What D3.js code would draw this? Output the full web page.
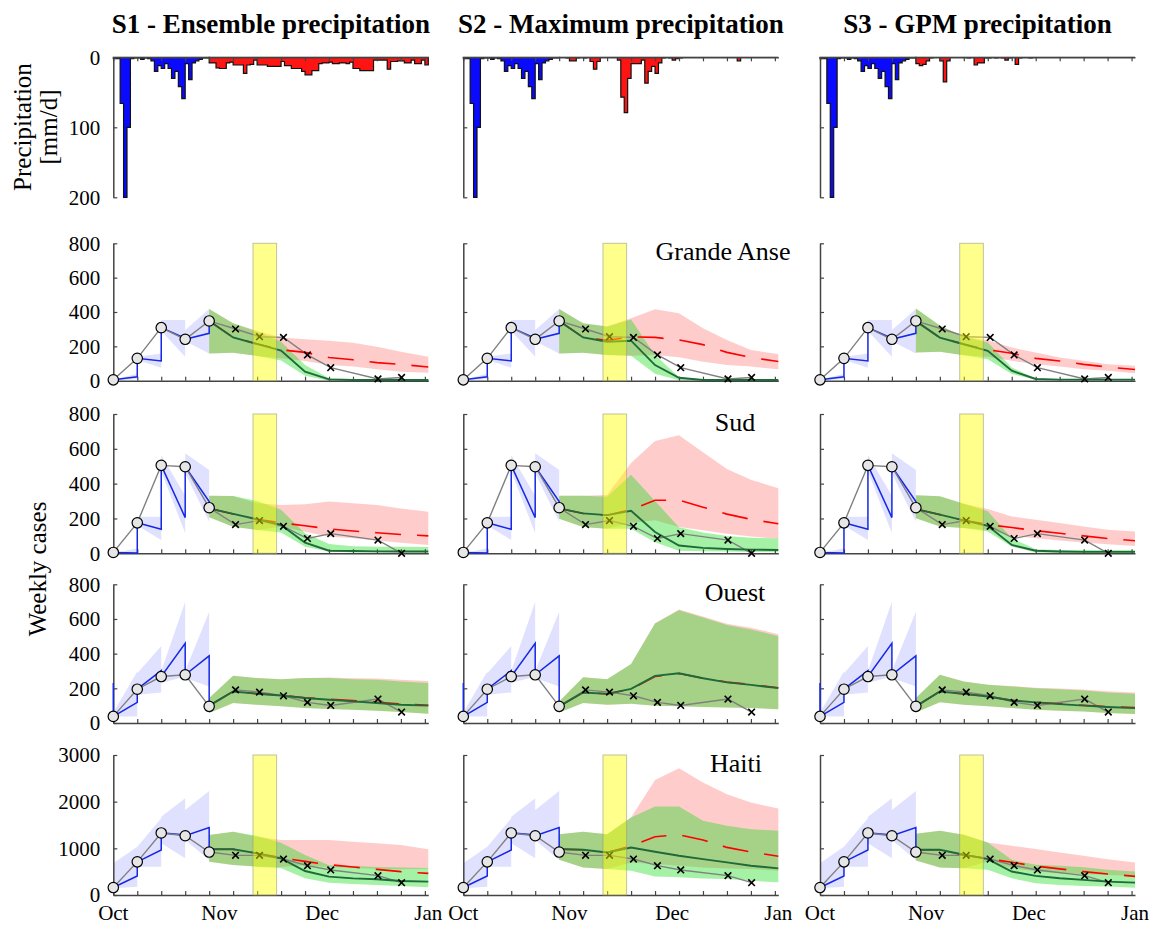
<!DOCTYPE html>
<html>
<head>
<meta charset="utf-8">
<script src="https://cdn.jsdelivr.net/npm/d3@7"></script>
<style>
  body { margin: 0; background: #fff; }
  svg text { font-family: "Liberation Serif", "Times New Roman", serif; }
</style>
</head>
<body>
<div id="chart"></div>
<script>
//column titles and row names
var scenarios = ['S1 - Ensemble precipitation', 'S2 - Maximum precipitation', 'S3 - GPM precipitation'];
var regions = ['Grande Anse', 'Sud', 'Ouest', 'Haiti'];
var monthLabels = ['Oct', 'Nov', 'Dec', 'Jan'];
var monthDays = [0, 31, 61, 92];
var caseTicks = [0, 200, 400, 600, 800];
var haitiTicks = [0, 1000, 2000, 3000];
var rainTicks = [0, 100, 200];

//daily rain (mm/d), Oct 1 = day 0
var rainObs = [2, 2, 66, 215, 100, 2, 1, 1, 3, 1, 2, 5, 20, 12, 16, 9, 16, 30, 20, 42, 59, 9, 32, 8, 5, 3, 1, 1];
var rainS1 = [8, 8, 15, 16, 16, 8, 7, 11, 11, 11, 23, 11, 10, 4, 11, 11, 11, 13, 13, 13, 13, 6, 12, 12, 16, 16, 16, 20, 25, 25, 19, 19,
  9, 8, 8, 7, 9, 9, 8, 8, 9, 7, 16, 16, 19, 19, 19, 19, 4, 4, 4, 4, 17, 6, 6, 5, 5, 8, 8, 4, 9, 9, 4, 11];
var rainS2 = [0, 0, 1, 5, 5, 1, 0, 1, 0, 6, 17, 6, 0, 0, 0, 0, 0, 4, 57, 79, 30, 9, 9, 9, 4, 37, 20, 13, 23, 8, 1, 0,
  1, 4, 2, 1, 0, 0, 0, 0, 0, 0, 0, 0, 0, 0, 0, 0, 0, 0, 0, 0, 5, 0, 0, 0, 0, 0, 0, 0, 0, 0, 0, 0];
var rainS3 = [9, 12, 10, 5, 1, 0, 0, 5, 35, 5, 0, 0, 0, 0, 0, 1, 0, 11, 8, 8, 1, 1, 0, 1, 0, 1, 4, 1, 0, 10, 1, 0,
  0, 1, 0, 0, 0, 0, 0, 0, 0, 0, 0, 0, 0, 0, 0, 0, 0, 0, 0, 0, 0, 0, 0, 0, 0, 0, 0, 0, 0, 0, 0, 0];

//days of the weekly points
var obsDays = [0, 7, 14, 21, 28];
var valDays = [35.7, 42.7, 49.7, 56.7, 63.5, 77.3, 84.2];
var fcDays = [28, 35, 42, 49, 56, 63, 70, 77, 84, 92];
var alertDays = [40.8, 47.7];

//Grande Anse
var gaObs = [5, 130, 309, 241, 348];
var gaVal = [301, 256, 252, 150, 76, 10, 19];
var gaPred = [5, 23, 115, 247, 276];
var gaBandStart = [[0, 5], [120, 140], [290, 353], [230, 295]];
var gaBandEnd = [[10, 40], [76, 159], [140, 353], [159, 418]];
var gaGreenMid = [[348, 252, 214, 175, 52, 8, 4, 4, 4, 4], [348, 252, 227, 233, 91, 17, 4, 4, 4, 4], [347, 251, 212, 174, 58, 10, 6, 6, 6, 6]];
var gaGreenLo = [[159, 163, 144, 117, 29, 0, 0, 0, 0, 0], [159, 163, 150, 145, 40, 2, 0, 0, 0, 0], [164, 168, 148, 125, 39, 6, 2, 2, 2, 2]];
var gaGreenHi = [[418, 334, 286, 227, 91, 14, 8, 8, 8, 8], [418, 334, 315, 357, 150, 20, 8, 6, 6, 6], [420, 322, 256, 222, 77, 13, 8, 8, 8, 8]];
var gaRedMid = [[348, 252, 214, 180, 165, 135, 122, 105, 95, 80], [348, 252, 235, 255, 252, 237, 210, 165, 135, 112], [347, 251, 212, 180, 160, 130, 115, 95, 80, 65]];
var gaRedLo = [[159, 163, 144, 130, 115, 91, 82, 66, 52, 47], [159, 163, 150, 145, 150, 136, 111, 91, 82, 66], [164, 168, 148, 140, 116, 96, 83, 67, 58, 44]];
var gaRedHi = [[418, 334, 290, 252, 241, 233, 221, 198, 169, 140], [418, 334, 315, 363, 416, 392, 305, 237, 179, 155], [420, 322, 256, 235, 193, 164, 135, 116, 96, 87]];

//Sud
var sudObs = [5, 175, 505, 497, 262];
var sudVal = [165, 188, 155, 85, 113, 76, 0];
var sudPred = [5, 2, 138, 205, 297];
var sudBandStart = [[0, 0], [160, 210], [470, 565], [459, 574]];
var sudBandEnd = [[0, 29], [77, 210], [115, 330], [182, 478]];
var sudGreenMid = [[258, 226, 195, 163, 61, 15, 13, 11, 10, 10], [258, 229, 219, 244, 122, 45, 31, 25, 21, 19], [254, 222, 189, 158, 48, 15, 10, 8, 8, 8]];
var sudGreenLo = [[207, 153, 134, 119, 38, 10, 4, 4, 4, 4], [199, 151, 141, 141, 64, 15, 12, 10, 8, 6], [202, 154, 145, 125, 39, 4, 2, 2, 2, 2]];
var sudGreenHi = [[331, 329, 300, 250, 115, 54, 40, 38, 38, 36], [331, 331, 325, 451, 300, 150, 120, 100, 90, 85], [334, 328, 285, 241, 87, 23, 19, 19, 19, 19]];
var sudRedMid = [[258, 226, 195, 175, 158, 140, 128, 118, 108, 100], [258, 229, 219, 250, 305, 305, 265, 225, 195, 170], [254, 222, 189, 165, 148, 130, 115, 100, 85, 72]];
var sudRedLo = [[207, 153, 134, 153, 124, 96, 86, 73, 61, 48], [199, 151, 141, 175, 190, 151, 132, 112, 97, 83], [202, 154, 145, 135, 100, 87, 73, 62, 52, 42]];
var sudRedHi = [[331, 329, 287, 277, 281, 297, 287, 277, 258, 239], [331, 331, 335, 519, 645, 678, 581, 484, 422, 374], [334, 328, 285, 254, 212, 193, 174, 154, 135, 125]];

//Ouest
var ouObs = [38, 195, 268, 278, 96];
var ouVal = [191, 178, 157, 119, 101, 138, 63];
var ouPred = [230, 119, 302, 459, 387];
var ouBandStart = [[38, 60], [163, 287], [230, 300], [260, 300]];
var ouBandEnd = [[38, 297], [176, 444], [268, 699], [211, 641]];
var ouGreenMid = [[100, 182, 169, 159, 144, 134, 125, 115, 105, 100], [96, 176, 168, 197, 272, 287, 258, 234, 220, 201], [96, 182, 168, 153, 130, 119, 109, 100, 92, 86]];
var ouGreenLo = [[58, 115, 105, 96, 86, 81, 77, 71, 63, 54], [61, 115, 105, 111, 100, 96, 92, 90, 86, 80], [61, 119, 105, 96, 86, 77, 71, 67, 57, 52]];
var ouGreenHi = [[144, 272, 259, 253, 259, 259, 253, 249, 240, 230], [124, 264, 253, 341, 574, 651, 609, 565, 540, 501], [144, 278, 239, 220, 211, 201, 195, 188, 176, 168]];
var ouRedMid = [[100, 182, 169, 160, 146, 137, 130, 120, 110, 102], [96, 176, 168, 195, 268, 285, 258, 236, 222, 203], [96, 182, 168, 153, 131, 120, 111, 102, 94, 89]];
var ouRedLo = [[58, 115, 105, 96, 86, 81, 77, 71, 63, 54], [61, 115, 105, 111, 100, 96, 92, 90, 86, 80], [61, 119, 105, 96, 86, 77, 71, 67, 57, 52]];
var ouRedHi = [[144, 272, 259, 253, 260, 262, 258, 256, 250, 242], [124, 264, 253, 341, 576, 655, 614, 572, 550, 512], [144, 278, 239, 221, 213, 204, 199, 193, 183, 176]];

//Haiti
var htObs = [160, 710, 1330, 1270, 920];
var htVal = [850, 850, 771, 629, 536, 414, 264];
var htPred = [160, 407, 964, 1286, 1443];
var htBandStart = [[143, 679], [607, 1036], [1107, 1679], [1179, 1821]];
var htBandEnd = [[179, 1036], [607, 1643], [786, 2071], [750, 2229]];
var htGreenMid = [[979, 979, 893, 786, 514, 393, 357, 336, 300, 286], [983, 969, 912, 1019, 926, 841, 770, 698, 627, 570], [969, 969, 862, 768, 503, 409, 359, 323, 287, 266]];
var htGreenLo = [[714, 643, 607, 571, 357, 264, 236, 214, 193, 164], [755, 591, 556, 520, 399, 378, 356, 342, 306, 271], [740, 589, 574, 539, 359, 251, 215, 194, 180, 158]];
var htGreenHi = [[1286, 1357, 1264, 1121, 857, 640, 620, 600, 590, 580], [1304, 1354, 1304, 1660, 1896, 1896, 1589, 1482, 1411, 1375], [1314, 1379, 1292, 1127, 754, 646, 625, 596, 539, 503]];
var htRedMid = [[979, 979, 893, 800, 720, 650, 600, 550, 500, 464], [983, 969, 912, 1050, 1250, 1290, 1180, 1020, 920, 830], [969, 969, 862, 780, 700, 620, 560, 500, 450, 400]];
var htRedLo = [[714, 643, 607, 600, 640, 600, 580, 560, 550, 560], [755, 591, 556, 698, 663, 627, 591, 570, 556, 520], [740, 589, 574, 718, 574, 503, 467, 452, 431, 409]];
var htRedHi = [[1286, 1357, 1250, 1179, 1179, 1179, 1143, 1107, 1071, 979], [1304, 1354, 1304, 1660, 2466, 2715, 2409, 2159, 1981, 1853], [1314, 1379, 1292, 1127, 1055, 984, 912, 840, 768, 696]];

//table built from the arrays above
var regionData = [
  { obs: gaObs, val: gaVal, pred: gaPred, bs: gaBandStart, be: gaBandEnd, gm: gaGreenMid, gl: gaGreenLo, gh: gaGreenHi, rm: gaRedMid, rl: gaRedLo, rh: gaRedHi, max: 800, ticks: caseTicks, alert: true },
  { obs: sudObs, val: sudVal, pred: sudPred, bs: sudBandStart, be: sudBandEnd, gm: sudGreenMid, gl: sudGreenLo, gh: sudGreenHi, rm: sudRedMid, rl: sudRedLo, rh: sudRedHi, max: 800, ticks: caseTicks, alert: true },
  { obs: ouObs, val: ouVal, pred: ouPred, bs: ouBandStart, be: ouBandEnd, gm: ouGreenMid, gl: ouGreenLo, gh: ouGreenHi, rm: ouRedMid, rl: ouRedLo, rh: ouRedHi, max: 800, ticks: caseTicks, alert: false },
  { obs: htObs, val: htVal, pred: htPred, bs: htBandStart, be: htBandEnd, gm: htGreenMid, gl: htGreenLo, gh: htGreenHi, rm: htRedMid, rl: htRedLo, rh: htRedHi, max: 3000, ticks: haitiTicks, alert: true }
];
var rainScen = [rainS1, rainS2, rainS3];

//layout
var width = 1155;
var height = 928;
var colX = [113.3, 463.3, 820];
var plotW = 315;
var rainTop = 57.3;
var rainBot = 197.3;
var rowTop = [243.3, 414, 584.3, 755];
var rowBot = [380.7, 553.3, 723, 895];
var labelX = [723, 735, 735, 736];
var weekTicks = d3.range(0, 92, 7);
var axisColor = '#444';
var serif = '"Liberation Serif", "Times New Roman", serif';

var svg = d3.select('#chart')
  .append('svg')
  .attr('width', width)
  .attr('height', height)
  .attr('font-family', serif);

function styleAxis(sel) {
  sel.attr('color', axisColor).attr('font-size', 21).attr('font-family', serif);
  sel.select('.domain').attr('stroke-width', 1.5);
  sel.selectAll('.tick line').attr('stroke-width', 1.2);
  sel.selectAll('.tick text').attr('fill', '#000');
}

//precipitation panels
function drawRain(col) {
  var x = d3.scaleLinear().domain([0, 92]).range([colX[col], colX[col] + plotW]);
  var y = d3.scaleLinear().domain([0, 200]).range([rainTop, rainBot]).clamp(true);
  var g = svg.append('g');

  var area = d3.area()
    .curve(d3.curveStepAfter)
    .x(function(d) { return x(d[0]); })
    .y0(y(0))
    .y1(function(d) { return y(d[1]); });

  var before = rainObs.map(function(v, i) { return [i, v]; });
  before.push([rainObs.length, rainObs[rainObs.length - 1]]);
  var after = rainScen[col].map(function(v, i) { return [i + rainObs.length, v]; });
  after.push([92, rainScen[col][rainScen[col].length - 1]]);

  g.append('path').attr('d', area(before)).attr('fill', '#0a0aff')
    .attr('stroke', '#111').attr('stroke-width', 1.2).attr('stroke-linejoin', 'miter');
  g.append('path').attr('d', area(after)).attr('fill', '#ff1414')
    .attr('stroke', '#111').attr('stroke-width', 1.2).attr('stroke-linejoin', 'miter');

  g.append('g')
    .attr('transform', 'translate(0,' + rainTop + ')')
    .call(d3.axisTop(x).tickValues(weekTicks).tickSizeInner(-4).tickSizeOuter(0).tickFormat(''))
    .call(styleAxis);

  g.append('g')
    .attr('transform', 'translate(' + colX[col] + ',0)')
    .call(d3.axisLeft(y).tickValues(rainTicks).tickSizeInner(-4).tickSizeOuter(0).tickPadding(13)
      .tickFormat(col === 0 ? d3.format('d') : ''))
    .call(styleAxis);
}

//weekly case panels
function drawCases(col, r) {
  var reg = regionData[r];
  var x = d3.scaleLinear().domain([0, 92]).range([colX[col], colX[col] + plotW]);
  var y = d3.scaleLinear().domain([0, reg.max]).range([rowBot[r], rowTop[r]]);
  var g = svg.append('g');

  var band = d3.area()
    .x(function(d) { return x(d.d); })
    .y0(function(d) { return y(d.lo); })
    .y1(function(d) { return y(d.hi); });
  var line = d3.line()
    .x(function(d) { return x(d.d); })
    .y(function(d) { return y(d.v); });

  //calibration uncertainty, one wedge per week
  reg.bs.forEach(function(s, k) {
    var e = reg.be[k];
    var pts = [{ d: obsDays[k], lo: s[0], hi: s[1] }, { d: obsDays[k + 1], lo: e[0], hi: e[1] }];
    g.append('path').attr('d', band(pts)).attr('fill', '#0000ff').attr('fill-opacity', 0.12);
  });

  //forecast bands: rain scenario (red) and green
  var redPts = fcDays.map(function(d, i) { return { d: d, lo: reg.rl[col][i], hi: reg.rh[col][i] }; });
  var greenPts = fcDays.map(function(d, i) { return { d: d, lo: reg.gl[col][i], hi: reg.gh[col][i] }; });
  g.append('path').attr('d', band(redPts)).attr('fill', '#ff0000').attr('fill-opacity', 0.2);
  g.append('path').attr('d', band(greenPts)).attr('fill', '#1edc1e').attr('fill-opacity', 0.4);

  //axes
  g.append('g')
    .attr('transform', 'translate(0,' + rowBot[r] + ')')
    .call(d3.axisBottom(x).tickValues(weekTicks).tickSizeInner(-4).tickSizeOuter(0).tickFormat(''))
    .call(styleAxis);
  g.append('g')
    .attr('transform', 'translate(' + colX[col] + ',0)')
    .call(d3.axisLeft(y).tickValues(reg.ticks).tickSizeInner(-4).tickSizeOuter(0).tickPadding(13)
      .tickFormat(col === 0 ? d3.format('d') : ''))
    .call(styleAxis);

  //model fit: prediction for each week, then reset to the observation
  var fit = [];
  obsDays.forEach(function(d, k) {
    fit.push({ d: d, v: reg.pred[k] });
    fit.push({ d: d, v: reg.obs[k] });
  });
  g.append('path').attr('d', line(fit)).attr('fill', 'none').attr('stroke', '#1428e6').attr('stroke-width', 1.5);

  //observed cases
  var observed = obsDays.map(function(d, i) { return { d: d, v: reg.obs[i] }; })
    .concat(valDays.map(function(d, i) { return { d: d, v: reg.val[i] }; }));
  g.append('path').attr('d', line(observed)).attr('fill', 'none').attr('stroke', '#808080').attr('stroke-width', 1.4);

  //forecast medians, green drawn over the red dashes
  g.append('path')
    .attr('d', line(fcDays.map(function(d, i) { return { d: d, v: reg.rm[col][i] }; })))
    .attr('fill', 'none').attr('stroke', '#ff0000').attr('stroke-width', 1.6).attr('stroke-dasharray', '26,16');
  g.append('path')
    .attr('d', line(fcDays.map(function(d, i) { return { d: d, v: reg.gm[col][i] }; })))
    .attr('fill', 'none').attr('stroke', '#1e6a3a').attr('stroke-width', 1.9);

  //markers
  g.selectAll('path.cross')
    .data(valDays)
    .enter()
    .append('path')
    .attr('class', 'cross')
    .attr('d', function(d, i) {
      var cx = x(d), cy = y(reg.val[i]);
      return 'M' + (cx - 3.3) + ',' + (cy - 3.3) + 'L' + (cx + 3.3) + ',' + (cy + 3.3) +
        'M' + (cx - 3.3) + ',' + (cy + 3.3) + 'L' + (cx + 3.3) + ',' + (cy - 3.3);
    })
    .attr('stroke', '#000').attr('stroke-width', 1.6);

  g.selectAll('circle')
    .data(obsDays)
    .enter()
    .append('circle')
    .attr('cx', function(d) { return x(d); })
    .attr('cy', function(d, i) { return y(reg.obs[i]); })
    .attr('r', 5.2)
    .attr('fill', '#e6e6e6')
    .attr('stroke', '#000')
    .attr('stroke-width', 1.2);

  //period of the rain alert
  if (reg.alert) {
    g.append('rect')
      .attr('x', x(alertDays[0]))
      .attr('width', x(alertDays[1]) - x(alertDays[0]))
      .attr('y', rowTop[r])
      .attr('height', rowBot[r] - rowTop[r])
      .attr('fill', '#ffff00').attr('fill-opacity', 0.45)
      .attr('stroke', '#9a9a80').attr('stroke-opacity', 0.6).attr('stroke-width', 1);
  }

  //month names on the bottom row
  if (r === regions.length - 1) {
    g.selectAll('text.month')
      .data(monthDays)
      .enter()
      .append('text')
      .attr('class', 'month')
      .attr('x', function(d) { return x(d); })
      .attr('y', rowBot[r] + 25)
      .attr('text-anchor', 'middle')
      .attr('font-size', 21)
      .text(function(d, i) { return monthLabels[i]; });
  }

  //region name in the middle column
  if (col === 1) {
    g.append('text')
      .attr('x', labelX[r])
      .attr('y', rowTop[r] + 17)
      .attr('text-anchor', 'middle')
      .attr('font-size', 26)
      .text(regions[r]);
  }
}

scenarios.forEach(function(s, col) {
  svg.append('text')
    .attr('x', colX[col] + plotW / 2)
    .attr('y', 33)
    .attr('text-anchor', 'middle')
    .attr('font-size', 27)
    .attr('font-weight', 'bold')
    .text(s);
  drawRain(col);
  regions.forEach(function(name, r) { drawCases(col, r); });
});

//axis titles
svg.append('text')
  .attr('transform', 'translate(31,127) rotate(-90)')
  .attr('text-anchor', 'middle')
  .attr('font-size', 25)
  .text('Precipitation');
svg.append('text')
  .attr('transform', 'translate(57,127) rotate(-90)')
  .attr('text-anchor', 'middle')
  .attr('font-size', 25)
  .text('[mm/d]');
svg.append('text')
  .attr('transform', 'translate(46,569) rotate(-90)')
  .attr('text-anchor', 'middle')
  .attr('font-size', 25)
  .text('Weekly cases');
</script>
</body>
</html>
